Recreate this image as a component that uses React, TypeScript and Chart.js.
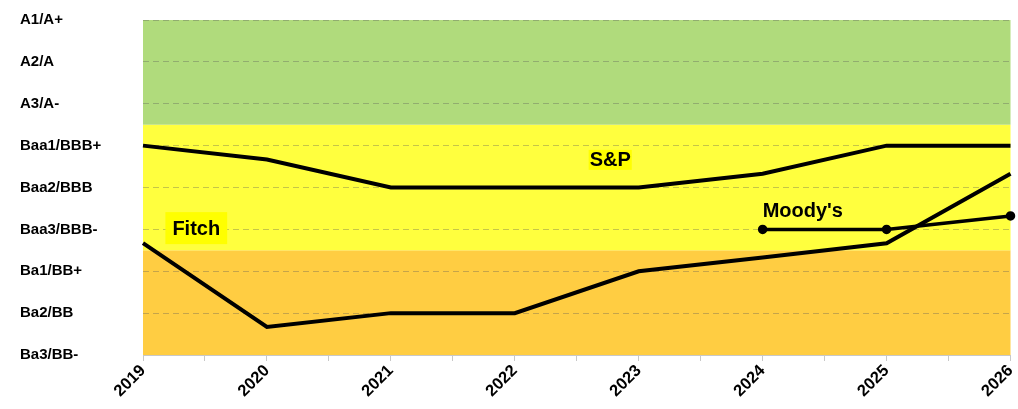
import React, { useEffect, useRef } from 'react';
import { Chart, registerables } from 'chart.js';

Chart.register(...registerables);

// ---- data ----
const years = [2019, 2020, 2021, 2022, 2023, 2024, 2025, 2026];
const spValues = [5, 4.67, 4, 4, 4, 4.33, 5, 5];
const fitchValues = [2.67, 0.67, 1, 1, 2, 2.33, 2.67, 4.33];
const moodysValues: (number | null)[] = [null, null, null, null, null, 3, 3, 3.32];
const ratingLabels = ['Ba3/BB-', 'Ba2/BB', 'Ba1/BB+', 'Baa3/BBB-', 'Baa2/BBB', 'Baa1/BBB+', 'A3/A-', 'A2/A', 'A1/A+'];

// rating bands (low, high in rating units)
const bandLows = [0, 2.5, 5.5];
const bandHighs = [2.5, 5.5, 8];
const bandColors = ['#ffcd42', '#ffff3e', '#b0db7c'];

// series name labels placed on the chart
const labelTexts = ['Fitch', 'S&P', "Moody's"];
const labelX = [2019.43, 2022.77, 2024.0];
const labelY = [3.03, 4.66, 3.44];

const FONT = "'Liberation Sans', Arial, sans-serif";

const toPoints = (vals: (number | null)[]) =>
  years.map((y, i) => ({ x: y, y: vals[i] })).filter((p) => p.y !== null) as { x: number; y: number }[];

const bandPlugin = {
  id: 'bands',
  beforeDraw(chart: any) {
    const { ctx, chartArea, scales } = chart;
    ctx.save();
    for (let i = 0; i < bandLows.length; i++) {
      const yTop = scales.y.getPixelForValue(bandHighs[i]);
      const yBot = scales.y.getPixelForValue(bandLows[i]);
      ctx.fillStyle = bandColors[i];
      ctx.fillRect(chartArea.left, yTop, chartArea.right - chartArea.left, yBot - yTop);
    }
    ctx.restore();
  },
};

const labelPlugin = {
  id: 'seriesLabels',
  afterDatasetsDraw(chart: any) {
    const { ctx, scales } = chart;
    ctx.save();
    ctx.font = `bold 20px ${FONT}`;
    ctx.textBaseline = 'middle';
    const styles = [
      { align: 'center', bg: '#ffff00', padX: 7, padY: 8 },
      { align: 'center', bg: '#ffff00', padX: 1, padY: 2 },
      { align: 'left', bg: null, padX: 0, padY: 0 },
    ];
    labelTexts.forEach((t, i) => {
      const px = scales.x.getPixelForValue(labelX[i]);
      const py = scales.y.getPixelForValue(labelY[i]);
      const w = ctx.measureText(t).width;
      const h = 16;
      const st = styles[i];
      const left = st.align === 'center' ? px - w / 2 : px;
      if (st.bg) {
        ctx.fillStyle = st.bg;
        ctx.fillRect(left - st.padX, py - h / 2 - st.padY, w + 2 * st.padX, h + 2 * st.padY);
      }
      ctx.fillStyle = '#000';
      ctx.textAlign = 'left';
      ctx.fillText(t, left, py + 1);
    });
    ctx.restore();
  },
};

export default function App() {
  const ref = useRef<HTMLCanvasElement>(null);
  useEffect(() => {
    document.body.style.margin = '0';
    const lineStyle = { borderColor: '#000', borderWidth: 4, tension: 0, fill: false };
    const chart = new Chart(ref.current!, {
      type: 'line',
      data: {
        datasets: [
          { label: 'S&P', data: toPoints(spValues), ...lineStyle, pointRadius: 0 },
          { label: 'Fitch', data: toPoints(fitchValues), ...lineStyle, pointRadius: 0 },
          {
            label: "Moody's",
            data: toPoints(moodysValues),
            ...lineStyle,
            borderWidth: 3.5,
            pointRadius: 3,
            pointBackgroundColor: '#000',
            pointBorderColor: '#000',
          },
        ],
      },
      options: {
        responsive: true,
        maintainAspectRatio: false,
        animation: false,
        clip: false,
        layout: { padding: { left: 20, right: 7, top: 20, bottom: 0 } },
        plugins: { legend: { display: false }, tooltip: { enabled: false } },
        scales: {
          x: {
            type: 'linear',
            min: 2019,
            max: 2026,
            ticks: {
              stepSize: 0.5,
              autoSkip: false,
              maxRotation: 45,
              minRotation: 45,
              padding: 0,
              color: '#000',
              font: { family: FONT, weight: 'bold', size: 16.5 },
              callback: (v: any) => (Number.isInteger(v) ? String(v) : ''),
            },
            grid: { drawOnChartArea: false, drawTicks: true, tickLength: 6, color: '#c8c8c8' },
            border: { color: '#c8c8c8' },
            afterFit: (s: any) => {
              s.height = 54;
              s.paddingLeft = 0;
              s.paddingRight = 0;
            },
          },
          y: {
            type: 'linear',
            min: 0,
            max: 8,
            ticks: {
              stepSize: 1,
              crossAlign: 'far',
              padding: 8,
              color: '#000',
              font: { family: FONT, weight: 'bold', size: 15 },
              callback: (v: any) => ratingLabels[v] ?? '',
            },
            grid: { color: 'rgba(90,90,90,0.35)', drawTicks: false },
            border: { display: false, dash: [6, 4] },
            afterFit: (s: any) => {
              s.width = 123;
              s.paddingTop = 0;
              s.paddingBottom = 0;
            },
          },
        },
      },
      plugins: [bandPlugin, labelPlugin],
    } as any);
    return () => chart.destroy();
  }, []);
  return (
    <div style={{ position: 'absolute', left: 0, top: 0, width: 1018, height: 409 }}>
      <canvas ref={ref} />
    </div>
  );
}
